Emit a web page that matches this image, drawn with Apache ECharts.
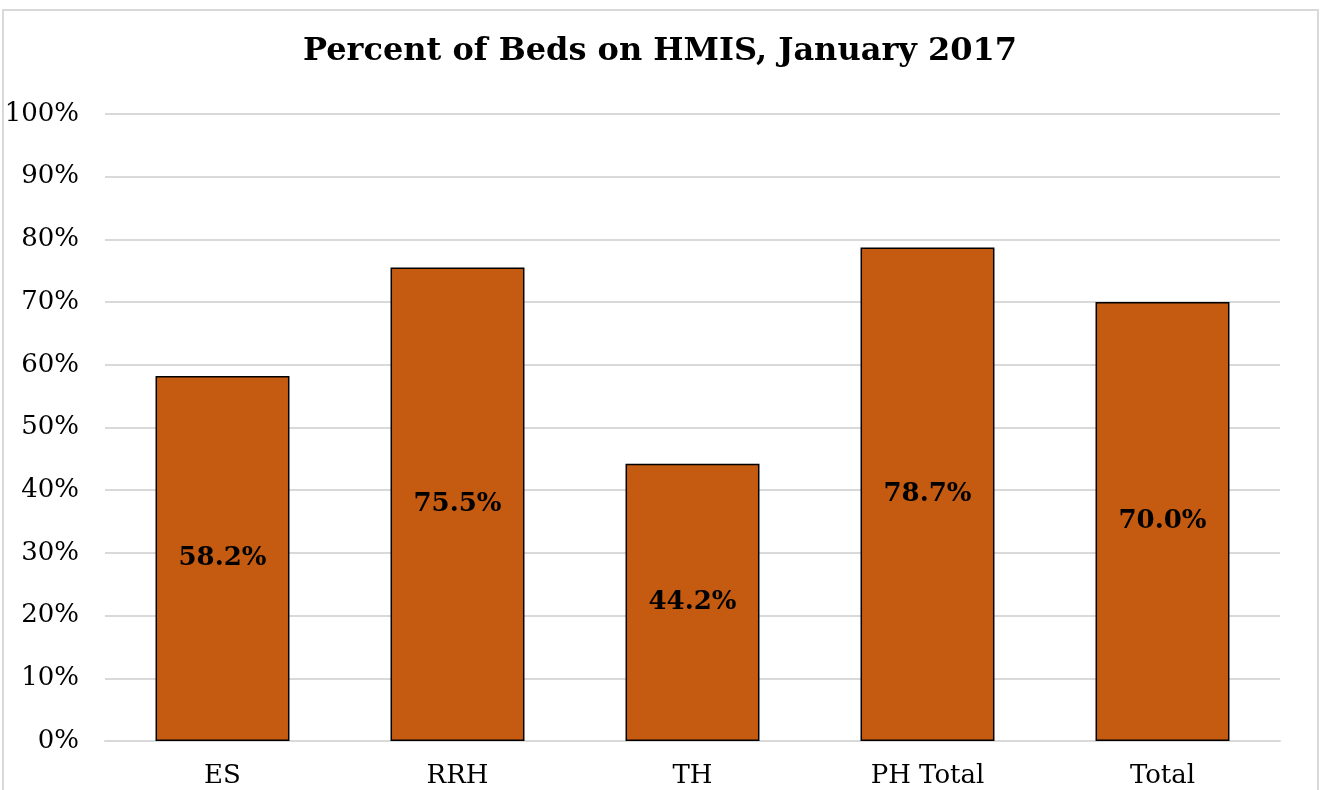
<!DOCTYPE html>
<html>
<head>
<meta charset="utf-8">
<script src="https://cdn.jsdelivr.net/npm/echarts@6/dist/echarts.min.js"></script>
<style>
  html, body { margin: 0; padding: 0; background: #fff; }
  #chart { width: 1320px; height: 790px; }
</style>
</head>
<body>
<div id="chart"></div>
<script>
// categories and values
const categories = ['ES', 'RRH', 'TH', 'PH Total', 'Total']
const percentOnHmis = [58.2, 75.5, 44.2, 78.7, 70.0]

const serif = '"DejaVu Serif", "Liberation Serif", serif'

const chart = echarts.init(document.getElementById('chart'), null, {renderer: 'canvas'})

chart.setOption({
  animation: false,
  backgroundColor: '#fff',
  title: {
    text: 'Percent of Beds on HMIS, January 2017',
    left: 'center',
    top: 31,
    textStyle: {fontFamily: serif, fontSize: 32, fontWeight: 'bold', color: '#000'}
  },
  graphic: [{
    type: 'rect',
    shape: {x: 3, y: 10, width: 1315, height: 800},
    style: {fill: 'none', stroke: '#d9d9d9', lineWidth: 2},
    silent: true
  }],
  grid: {left: 105, right: 40, top: 114, bottom: 49, containLabel: false},
  xAxis: {
    type: 'category',
    data: categories,
    axisLine: {show: true, lineStyle: {color: '#d9d9d9', width: 2}},
    axisTick: {show: false},
    axisLabel: {fontFamily: serif, fontSize: 26, color: '#000', margin: 22}
  },
  yAxis: {
    type: 'value',
    min: 0,
    max: 100,
    interval: 10,
    axisLine: {show: false},
    axisTick: {show: false},
    splitLine: {lineStyle: {color: '#d9d9d9', width: 2}},
    axisLabel: {fontFamily: serif, fontSize: 26, color: '#000', margin: 26, formatter: '{value}%'}
  },
  series: [{
    type: 'bar',
    data: percentOnHmis,
    barWidth: '57%',
    itemStyle: {color: '#c55a11', borderColor: '#000', borderWidth: 1.5},
    label: {
      show: true,
      position: 'inside',
      fontFamily: serif,
      fontSize: 26,
      fontWeight: 'bold',
      color: '#000',
      formatter: p => p.value.toFixed(1) + '%'
    }
  }]
})
</script>
</body>
</html>
